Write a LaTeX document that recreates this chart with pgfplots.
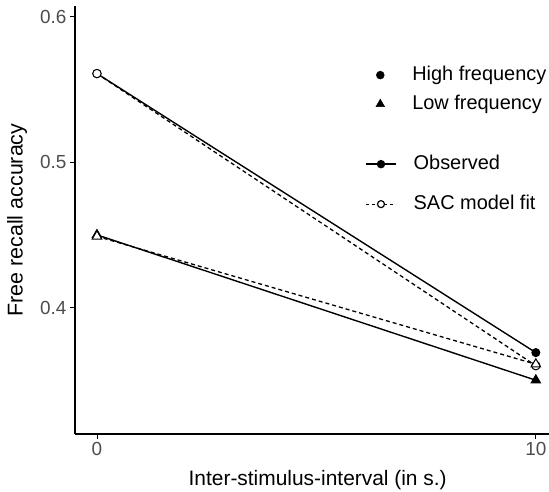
\documentclass[border=0pt]{standalone}
\usepackage{pgfplots}
\pgfplotsset{compat=1.18}
\usepackage{fontspec}
\setmainfont{Liberation Sans}
\usetikzlibrary{calc}
\definecolor{tickgray}{HTML}{4D4D4D}
\pgfplotsset{
  sacimage/.style={
    legend image code/.code={\draw[mark repeat=2, mark phase=2, ##1] plot coordinates {(0bp,0bp)(15bp,0bp)(30bp,0bp)};},
  },
  dotimage/.style={
    legend image code/.code={\path[draw=none, fill=none] (0bp,0bp) -- (30bp,0bp); \draw[##1] plot coordinates {(15bp,0bp)};},
  },
}
\begin{document}
\begin{tikzpicture}
\begin{axis}[
    name=ax,
    scale only axis,
    width=474bp, height=428bp,
    xmin=-0.5, xmax=10.3,
    ymin=0.313, ymax=0.6075,
    axis x line*=bottom, axis y line*=left,
    axis line style={line width=1.1pt, -},
    xtick={0,10}, ytick={0.4,0.5,0.6},
    tick align=outside, major tick length=5bp,
    tick style={line width=0.8pt, black},
    ticklabel style={font=\fontsize{19}{21}\selectfont, text=tickgray},
    /pgf/number format/assume math mode=true,
    yticklabel style={/pgf/number format/fixed, /pgf/number format/precision=1, /pgf/number format/fixed zerofill},
    xlabel={Inter-stimulus-interval (in s.)},
    ylabel={Free recall accuracy},
    xlabel style={font=\fontsize{21}{23}\selectfont, at={(axis description cs:0.512,-0.1075)}, anchor=center},
    ylabel style={font=\fontsize{21.5}{23}\selectfont, at={(axis description cs:-0.1224,0.5)}, anchor=center, rotate=0},
]
% observed
\addplot[black, line width=1.4pt, mark=*, mark size=3.8bp] coordinates {(0,0.561)(10,0.369)};
\addplot[black, line width=1.4pt, mark=triangle*, mark size=5bp] coordinates {(0,0.450)(10,0.350)};
% SAC model fit
\addplot[black, line width=1.3pt, dash pattern=on 4bp off 3bp, mark=*, mark size=4.2bp, mark options={solid, fill=white, line width=1pt}] coordinates {(0,0.561)(10,0.360)};
\addplot[black, line width=1.3pt, dash pattern=on 4bp off 3bp, mark=triangle*, mark size=5.5bp, mark options={solid, fill=white, line width=1pt}] coordinates {(0,0.449)(10,0.361)};
\end{axis}
\begin{axis}[
    scale only axis, width=474bp, height=428bp,
    at={(ax.south west)}, anchor=south west,
    xmin=0, xmax=1, ymin=0, ymax=1, hide axis,
    legend cell align=left,
    legend style={draw=none, fill=none, inner sep=0pt, at={(0.612,0.860)}, anchor=north west,
      font=\fontsize{20}{22}\selectfont, row sep=11bp,
      nodes={inner sep=0pt, text height=14bp, text depth=4bp},
      /tikz/every odd column/.append style={column sep=17bp}},
]
\addlegendimage{mark=*, mark size=4bp, black, dotimage}
\addlegendentry{High frequency}
\addlegendimage{mark=triangle*, mark size=5bp, black, dotimage}
\addlegendentry{Low frequency}
\end{axis}
\begin{axis}[
    scale only axis, width=474bp, height=428bp,
    at={(ax.south west)}, anchor=south west,
    xmin=0, xmax=1, ymin=0, ymax=1, hide axis,
    legend cell align=left,
    legend style={draw=none, fill=none, inner sep=0pt, at={(0.612,0.652)}, anchor=north west,
      font=\fontsize{20}{22}\selectfont, row sep=22bp,
      nodes={inner sep=0pt, text height=14bp, text depth=4bp},
      /tikz/every odd column/.append style={column sep=17bp}},
]
\addlegendimage{black, line width=1.4pt, mark=*, mark size=3.5bp, sacimage}
\addlegendentry{Observed}
\addlegendimage{black, line width=1.2pt, dash pattern=on 3bp off 3bp, mark=*, mark size=3.5bp, mark options={solid, fill=white}, sacimage}
\addlegendentry{SAC model fit}
\end{axis}
\pgfresetboundingbox
\path ($(ax.south west)+(-75bp,-58bp)$) rectangle ($(ax.south west)+(474bp,434bp)$);
\end{tikzpicture}
\end{document}
